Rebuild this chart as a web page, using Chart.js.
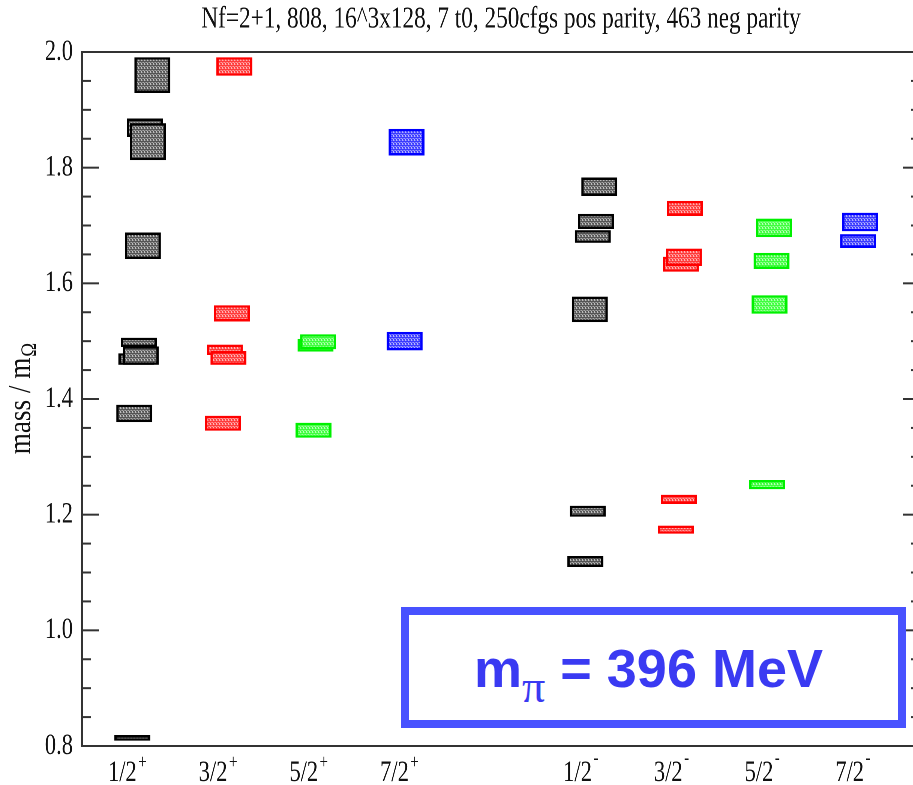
<!DOCTYPE html>
<html>
<head>
<meta charset="utf-8">
<script src="https://cdn.jsdelivr.net/npm/chart.js@4.4.1/dist/chart.umd.min.js"></script>
<style>
  html, body { margin: 0; padding: 0; background: #fff; overflow: hidden; width: 913px; height: 785px; }
  /* the plot is laid out wide and narrowed, which gives the condensed serif look */
  #plot { position: absolute; left: 0; top: 0; width: 1240px; height: 785px; transform: scaleX(0.75); transform-origin: 0 0; }
  #pion {
    position: absolute; left: 401px; top: 607px; width: 505px; height: 121px;
    box-sizing: border-box; border: 8px solid #4852ff; background: #fff;
    display: flex; align-items: center; justify-content: center; padding-right: 10px;
    font: bold 54px "Liberation Sans", Arial, sans-serif; color: #3a3af2; white-space: nowrap;
  }
  #pion sub { font: 46px "Liberation Serif", serif; vertical-align: -15px; line-height: 0; }
</style>
</head>
<body>
<div id="plot"><canvas id="c" width="1240" height="785"></canvas></div>
<div id="pion"><span>m<sub>π</sub> = 396 MeV</span></div>
<script>
// channels J^P along the x axis
const channelLabels = ['1/2', '3/2', '5/2', '7/2', '1/2', '3/2', '5/2', '7/2'];
const channelParity = ['+', '+', '+', '+', '-', '-', '-', '-'];
const channelPos = [1, 2, 3, 4, 6, 7, 8, 9];

// levels: mass / m_Omega, statistical half-width, small horizontal shift of each level
const mass12p  = [0.814, 1.375, 1.469, 1.498, 1.475, 1.665, 1.869, 1.845, 1.960];
const err12p   = [0.005, 0.015, 0.010, 0.008, 0.016, 0.023, 0.016, 0.032, 0.031];
const shift12p = [0.055, 0.077, 0.099, 0.127, 0.149, 0.171, 0.193, 0.226, 0.276];

const mass32p  = [1.358, 1.485, 1.471, 1.548, 1.975];
const err32p   = [0.013, 0.009, 0.012, 0.014, 0.016];
const shift32p = [0.054, 0.076, 0.115, 0.152, 0.180];

const mass52p  = [1.346, 1.493, 1.499];
const err52p   = [0.013, 0.011, 0.013];
const shift52p = [0.053, 0.075, 0.103];

const mass72p  = [1.500, 1.844];
const err72p   = [0.016, 0.023];
const shift72p = [0.057, 0.079];

const mass12m  = [1.119, 1.206, 1.555, 1.681, 1.707, 1.767];
const err12m   = [0.0095, 0.0095, 0.022, 0.011, 0.013, 0.016];
const shift12m = [0.050, 0.077, 0.099, 0.132, 0.166, 0.204];

const mass32m  = [1.174, 1.2265, 1.633, 1.645, 1.7295];
const err32m   = [0.007, 0.008, 0.013, 0.015, 0.013];
const shift32m = [0.049, 0.082, 0.104, 0.137, 0.148];

const mass52m  = [1.252, 1.5635, 1.6387, 1.6958];
const err52m   = [0.008, 0.016, 0.014, 0.016];
const shift52m = [0.053, 0.081, 0.103, 0.130];

const mass72m  = [1.673, 1.706];
const err72m   = [0.012, 0.016];
const shift72m = [0.057, 0.079];

const titleText = 'Nf=2+1, 808, 16^3x128, 7 t0, 250cfgs pos parity, 463 neg parity';

const canvas = document.getElementById('c');
const ctx = canvas.getContext('2d');

// dotted fill used inside every level box
function dotted(base) {
  const t = document.createElement('canvas');
  t.width = 4; t.height = 4;
  const g = t.getContext('2d');
  g.fillStyle = base; g.fillRect(0, 0, 4, 4);
  g.fillStyle = '#ffffff';
  [[0, 0], [2, 0], [1, 2], [3, 2], [0, 3]].forEach(([i, j]) => g.fillRect(i, j, 1, 1));
  return ctx.createPattern(t, 'repeat');
}

const palette = {
  black: { line: '#000000', fill: dotted('#3c3c3c') },
  red:   { line: '#ff0000', fill: dotted('#ff1e1e') },
  green: { line: '#00f000', fill: dotted('#22ff22') },
  blue:  { line: '#0000ff', fill: dotted('#1e1eff') }
};

function channel(name, k, masses, errs, shifts, colour) {
  return {
    label: name,
    data: masses.map((m, i) => ({ x: channelPos[k] + shifts[i], y: [m - errs[i], m + errs[i]] })),
    backgroundColor: palette[colour].fill,
    borderColor: palette[colour].line,
    borderWidth: { left: 3.3, right: 3.3, top: 2.5, bottom: 2.5 },
    borderSkipped: false,
    inflateAmount: 0,
    barThickness: 48,
    grouped: false
  };
}

const datasets = [
  channel('1/2+', 0, mass12p, err12p, shift12p, 'black'),
  channel('3/2+', 1, mass32p, err32p, shift32p, 'red'),
  channel('5/2+', 2, mass52p, err52p, shift52p, 'green'),
  channel('7/2+', 3, mass72p, err72p, shift72p, 'blue'),
  channel('1/2-', 4, mass12m, err12m, shift12m, 'black'),
  channel('3/2-', 5, mass32m, err32m, shift32m, 'red'),
  channel('5/2-', 6, mass52m, err52m, shift52m, 'green'),
  channel('7/2-', 7, mass72m, err72m, shift72m, 'blue')
];

const isMajor = v => Math.abs(v * 5 - Math.round(v * 5)) < 1e-6;
const serif = '"Liberation Serif", "Times New Roman", serif';

// frame, inward ticks, J^P labels and the vertical axis title
const framePlugin = {
  id: 'frame',
  afterDraw(chart) {
    const { ctx: c, chartArea: a, scales: { x, y } } = chart;
    c.save();
    c.fillStyle = '#333333';
    const vw = 2.67, hw = 2;
    c.fillRect(a.left - vw / 2, a.top - hw / 2, vw, a.bottom - a.top + hw);
    c.fillRect(a.right - vw / 2, a.top - hw / 2, vw, a.bottom - a.top + hw);
    c.fillRect(a.left - vw / 2, a.top - hw / 2, a.right - a.left + vw, hw);
    c.fillRect(a.left - vw / 2, a.bottom - hw / 2, a.right - a.left + vw, hw);
    y.ticks.forEach(t => {
      const py = y.getPixelForValue(t.value);
      const len = isMajor(t.value) ? 22.7 : 12;
      c.fillRect(a.left, py - 1, len, 2);
      c.fillRect(a.right - len, py - 1, len, 2);
    });

    c.fillStyle = '#111111';
    c.textBaseline = 'alphabetic';
    c.textAlign = 'left';
    channelPos.forEach((p, i) => {
      const px = x.getPixelForValue(p);
      c.font = '30px ' + serif;
      const w = c.measureText(channelLabels[i]).width;
      c.font = '20px ' + serif;
      const ws = c.measureText(channelParity[i]).width;
      const x0 = px - (w + ws + 2) / 2;
      const base = 781;
      c.font = '30px ' + serif;
      c.fillText(channelLabels[i], x0, base);
      c.font = '20px ' + serif;
      c.fillText(channelParity[i], x0 + w + 2, base - (channelParity[i] === '+' ? 13 : 17));
    });

    // "mass / m_Ω", condensed along the text like the rest of the lettering
    c.translate(40, (a.top + a.bottom) / 2);
    c.rotate(-Math.PI / 2);
    c.scale(0.85, 1 / 0.75);
    c.font = '32px ' + serif;
    const main = 'mass / m';
    const wm = c.measureText(main).width;
    c.font = '22px ' + serif;
    const wo = c.measureText('Ω').width;
    const s0 = -(wm + wo) / 2;
    c.font = '32px ' + serif;
    c.fillText(main, s0, 0);
    c.font = '22px ' + serif;
    c.fillText('Ω', s0 + wm + 1, 6);
    c.restore();
  }
};

new Chart(canvas, {
  type: 'bar',
  data: { datasets },
  options: {
    responsive: false,
    devicePixelRatio: 2,
    animation: false,
    layout: { padding: { left: 0, right: 13.3, top: 0, bottom: 0 } },
    plugins: {
      legend: { display: false },
      tooltip: { enabled: false },
      title: {
        display: true,
        text: titleText,
        fullSize: false,
        color: '#111111',
        font: { family: serif, size: 31, weight: 'normal', lineHeight: 1.2 },
        padding: { top: 1, bottom: 13.8 }
      }
    },
    scales: {
      x: {
        type: 'linear',
        min: 0.5,
        max: 9.74,
        offset: false,
        grid: { display: false, drawTicks: false },
        border: { display: false },
        ticks: { display: false },
        afterFit: s => { s.height = 39; }
      },
      y: {
        type: 'linear',
        min: 0.8,
        max: 2.0,
        beginAtZero: false,
        grid: { display: false, drawTicks: false },
        border: { display: false },
        ticks: {
          stepSize: 0.05,
          autoSkip: false,
          padding: 12,
          color: '#111111',
          font: { family: serif, size: 30 },
          callback: v => isMajor(v) ? v.toFixed(1) : ''
        },
        afterFit: s => { s.width = 109.3; }
      }
    }
  },
  plugins: [framePlugin]
});
</script>
</body>
</html>
